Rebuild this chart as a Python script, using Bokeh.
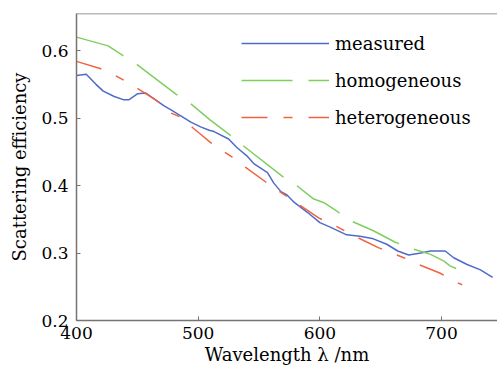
from bokeh.plotting import figure
from bokeh.models import Range1d, Legend, LegendItem, FixedTicker, Span
from bokeh.embed import file_html
from bokeh.resources import INLINE

# Data
wl_meas = [400, 408, 416, 422, 431, 439, 443, 450, 457, 464, 472, 477, 486, 494, 502, 509, 513,
           525, 532, 540, 546, 557, 562, 568, 573, 579, 590, 600, 609, 622, 633, 644, 655, 664,
           673, 683, 691, 703, 710, 721, 732, 742]
eff_meas = [0.563, 0.565, 0.550, 0.540, 0.532, 0.527, 0.527, 0.536, 0.537, 0.528, 0.518, 0.513,
            0.503, 0.494, 0.487, 0.482, 0.480, 0.469, 0.456, 0.444, 0.432, 0.419, 0.404, 0.391,
            0.386, 0.375, 0.360, 0.345, 0.338, 0.327, 0.325, 0.321, 0.313, 0.303, 0.297, 0.300,
            0.303, 0.303, 0.293, 0.283, 0.275, 0.264]

wl_homo = [400, 426, 437, 450, 482, 494, 510, 526, 537, 569, 581, 595, 603, 614, 625, 644, 662,
           675, 691, 702, 707, 712]
eff_homo = [0.620, 0.607, 0.594, 0.579, 0.535, 0.521, 0.497, 0.475, 0.459, 0.414, 0.400, 0.380,
            0.375, 0.362, 0.348, 0.333, 0.316, 0.307, 0.298, 0.288, 0.281, 0.277]

wl_hetero = [400, 420, 432, 438, 450, 466, 477, 486, 496, 502, 510, 522, 528, 539, 555, 567, 599,
             613, 631, 648, 669, 681, 699, 713, 717]
eff_hetero = [0.584, 0.573, 0.563, 0.557, 0.544, 0.526, 0.508, 0.501, 0.485, 0.476, 0.464, 0.449,
              0.442, 0.427, 0.406, 0.391, 0.352, 0.340, 0.323, 0.308, 0.293, 0.283, 0.270, 0.256,
              0.253]

x_ticks = [400, 500, 600, 700]
y_ticks = [0.2, 0.3, 0.4, 0.5, 0.6]
series_names = ["measured", "homogeneous", "heterogeneous"]

FONT = "DejaVu Serif"
AXIS_COLOR = "#777372"
Y_MIN, Y_MAX = 0.2, 0.655

p = figure(width=497, height=375, output_backend="svg", toolbar_location=None,
           x_range=Range1d(400, 746), y_range=Range1d(Y_MIN, Y_MAX),
           min_border_left=76, min_border_right=0, min_border_top=13, min_border_bottom=55)
p.outline_line_color = None
p.xgrid.visible = False
p.ygrid.visible = False

r_meas = p.line(wl_meas, eff_meas, line_color="#4f6bc9", line_width=1.5)
r_homo = p.line(wl_homo, eff_homo, line_color="#7fcf5f", line_width=1.5, line_dash="51 16")
r_het = p.line(wl_hetero, eff_hetero, line_color="#f26140", line_width=1.5, line_dash="26 16 9 16")

for ax, ticks in ((p.xaxis[0], x_ticks), (p.yaxis[0], y_ticks)):
    ax.ticker = FixedTicker(ticks=ticks)
    ax.axis_line_color = AXIS_COLOR
    ax.axis_line_width = 1.5
    ax.major_tick_line_color = AXIS_COLOR
    ax.major_tick_in = 4
    ax.major_tick_out = 0
    ax.minor_tick_line_color = None
    ax.major_label_text_font = FONT
    ax.major_label_text_font_size = "17px"
    ax.major_label_text_color = "black"
    ax.axis_label_text_font = FONT
    ax.axis_label_text_font_size = "18px"
    ax.axis_label_text_font_style = "normal"
    ax.axis_label_text_color = "black"

p.xaxis[0].axis_label = "Wavelength \u03bb /nm"
p.xaxis[0].major_label_standoff = 6
p.xaxis[0].axis_label_standoff = 2
p.yaxis[0].axis_label = "Scattering efficiency"
p.yaxis[0].major_label_standoff = 8
p.yaxis[0].axis_label_standoff = 8

top_line = Span(location=Y_MAX, dimension="width", line_color=AXIS_COLOR, line_width=1.5)
p.add_layout(top_line)

legend = Legend(items=[LegendItem(label=series_names[0], renderers=[r_meas]),
                       LegendItem(label=series_names[1], renderers=[r_homo]),
                       LegendItem(label=series_names[2], renderers=[r_het])],
                location=(165, 192), glyph_width=88, glyph_height=22, label_height=22,
                label_standoff=6, spacing=15, padding=0, margin=0,
                border_line_color=None, background_fill_alpha=0,
                label_text_font=FONT, label_text_font_size="18px", label_text_color="black")
p.add_layout(legend, "center")

open("out.html", "w").write(file_html(p, INLINE))
